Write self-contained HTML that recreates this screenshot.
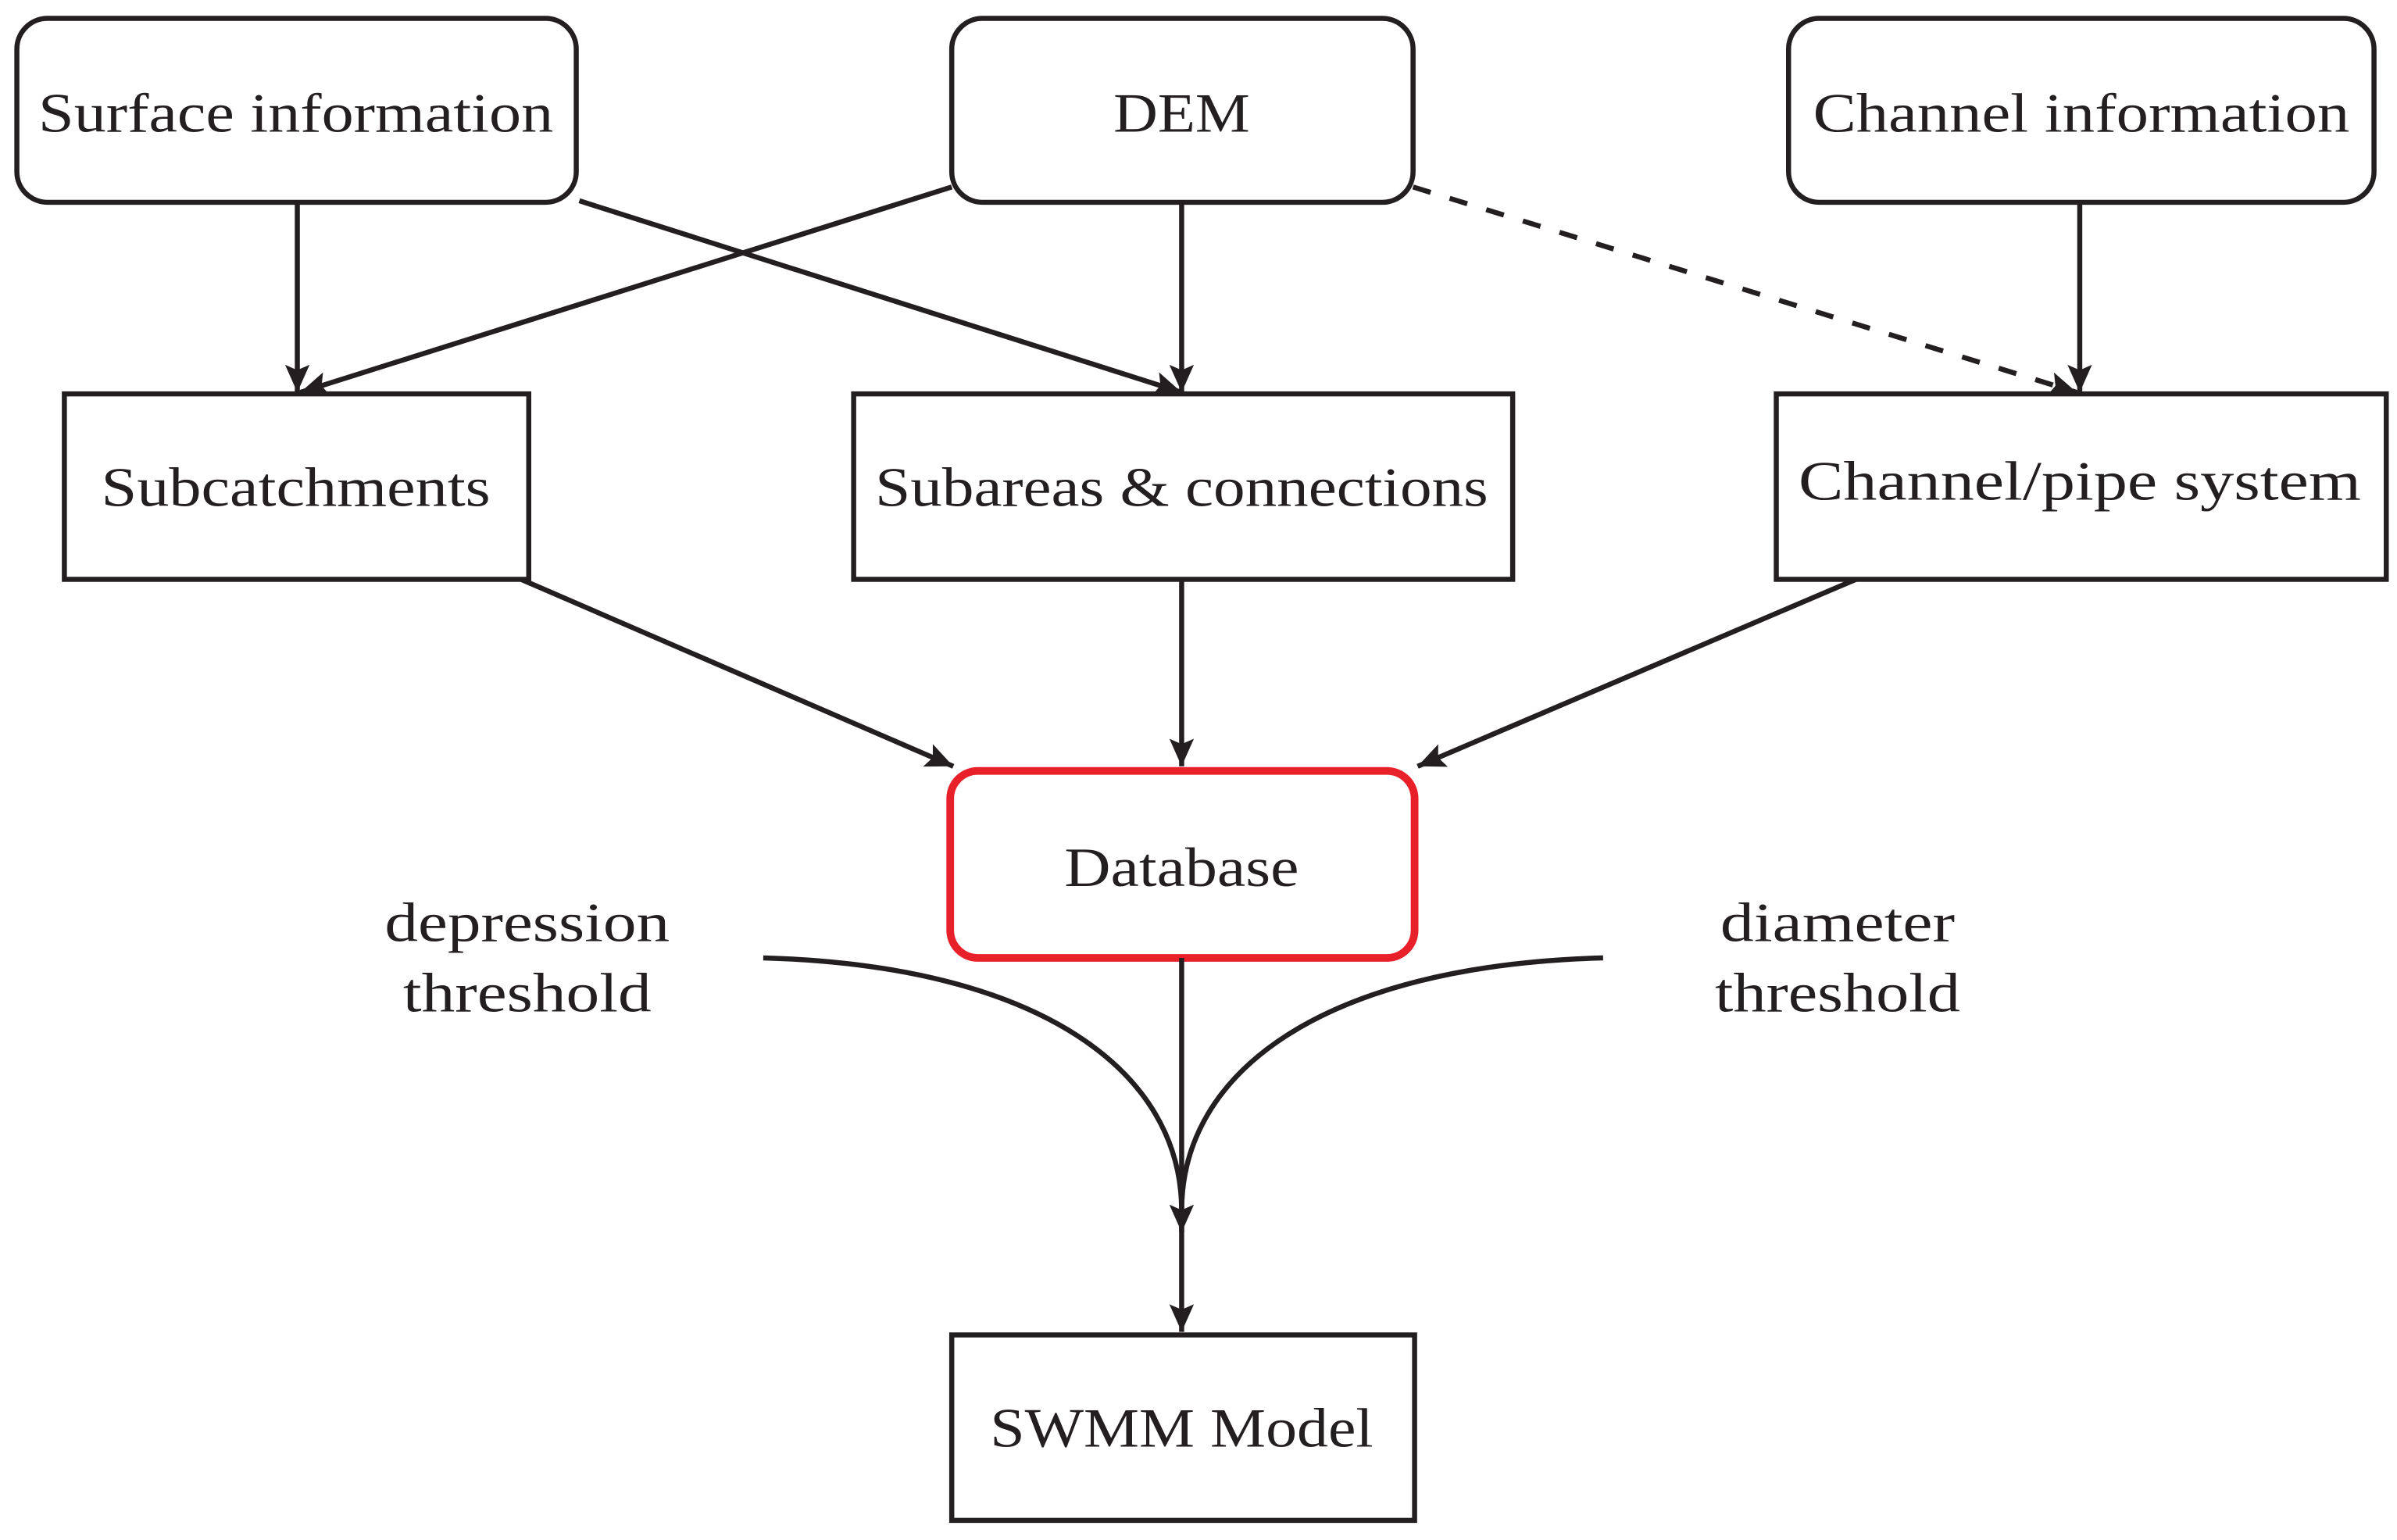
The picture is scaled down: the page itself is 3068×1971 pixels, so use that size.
<!DOCTYPE html>
<html><head><meta charset="utf-8"><style>
html,body{margin:0;padding:0;background:#fff;}
svg{display:block;}
text{font-family:"Liberation Serif",serif;font-size:36px;fill:#231f20;}
</style></head><body>
<svg width="3068" height="1971" viewBox="0 0 1564 1004.8" preserveAspectRatio="none" xmlns="http://www.w3.org/2000/svg">
<defs>
<marker id="a" markerUnits="userSpaceOnUse" markerWidth="22" markerHeight="18" refX="18" refY="8" orient="auto">
<path d="M0,0 L18,8 L0,16 L3.5,8 Z" fill="#231f20"/>
</marker>
</defs>
<g fill="none" stroke="#231f20" stroke-width="3.3">
<rect x="11" y="12" width="365" height="120" rx="20"/>
<rect x="621" y="12" width="301" height="120" rx="20"/>
<rect x="1167" y="12" width="382" height="120" rx="20"/>
<rect x="42" y="257" width="303" height="121"/>
<rect x="557" y="257" width="430" height="121"/>
<rect x="1159" y="257" width="398" height="121"/>
<rect x="621" y="871" width="302" height="121"/>
<rect x="620" y="503" width="303" height="122" rx="18" stroke="#e8202a" stroke-width="5"/>

<line x1="194" y1="132" x2="194" y2="256" marker-end="url(#a)"/>
<line x1="621" y1="122" x2="196" y2="256" marker-end="url(#a)"/>
<line x1="378" y1="131" x2="771" y2="256" marker-end="url(#a)"/>
<line x1="771" y1="132" x2="771" y2="256" marker-end="url(#a)"/>
<line x1="922" y1="122" x2="1355" y2="256" stroke-dasharray="12 13" marker-end="url(#a)"/>
<line x1="1357" y1="132" x2="1357" y2="256" marker-end="url(#a)"/>
<line x1="340" y1="378" x2="622" y2="500" marker-end="url(#a)"/>
<line x1="771" y1="378" x2="771" y2="500" marker-end="url(#a)"/>
<line x1="1211" y1="378" x2="925" y2="500" marker-end="url(#a)"/>
<line x1="771" y1="625" x2="771" y2="804" marker-end="url(#a)"/>
<line x1="771" y1="790" x2="771" y2="869" marker-end="url(#a)"/>
<path d="M498,625 C680,630 771,700 771,790"/>
<path d="M1046,625 C862,630 771,700 771,790"/>
</g>
<g text-anchor="middle">
<text x="193" y="86" textLength="336" lengthAdjust="spacingAndGlyphs">Surface information</text>
<text x="771" y="86" textLength="89" lengthAdjust="spacingAndGlyphs">DEM</text>
<text x="1358" y="86" textLength="350" lengthAdjust="spacingAndGlyphs">Channel information</text>
<text x="193" y="330" textLength="254" lengthAdjust="spacingAndGlyphs">Subcatchments</text>
<text x="771" y="330" textLength="400" lengthAdjust="spacingAndGlyphs">Subareas &amp; connections</text>
<text x="1357" y="326" textLength="367" lengthAdjust="spacingAndGlyphs">Channel/pipe system</text>
<text x="771" y="578" textLength="153" lengthAdjust="spacingAndGlyphs">Database</text>
<text x="344" y="614" textLength="186" lengthAdjust="spacingAndGlyphs">depression</text>
<text x="344" y="660" textLength="162" lengthAdjust="spacingAndGlyphs">threshold</text>
<text x="1199" y="614" textLength="153" lengthAdjust="spacingAndGlyphs">diameter</text>
<text x="1199" y="660" textLength="160" lengthAdjust="spacingAndGlyphs">threshold</text>
<text x="771" y="944" textLength="250" lengthAdjust="spacingAndGlyphs">SWMM Model</text>
</g>
</svg>
</body></html>
